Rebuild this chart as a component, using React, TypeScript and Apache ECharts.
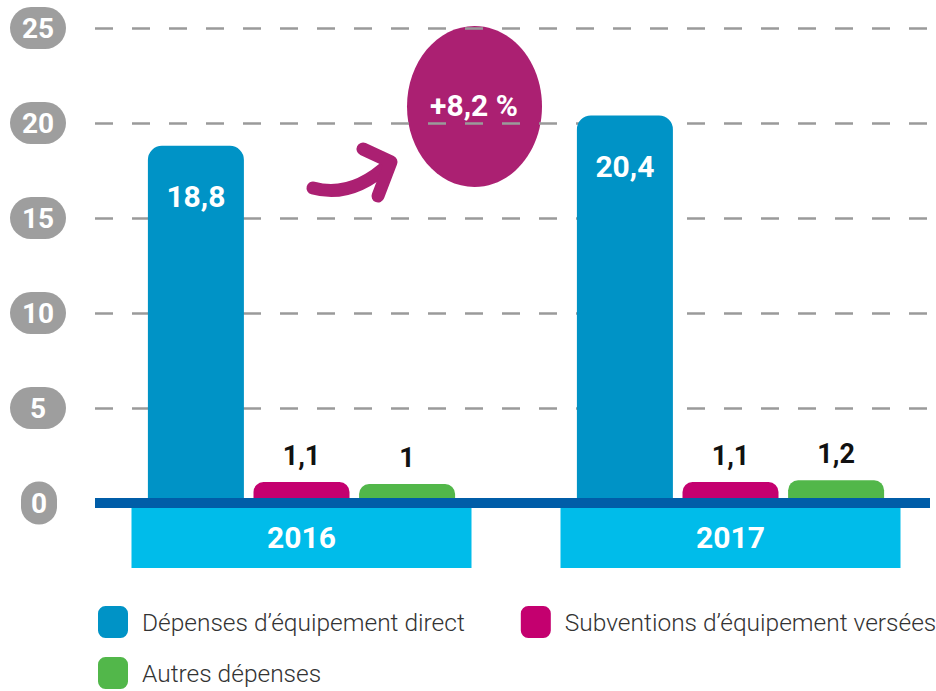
import React, { useEffect, useRef } from "react";
import * as echarts from "echarts";

const categories = ["2016", "2017"];
const seriesNames = [
  "Dépenses d’équipement direct",
  "Subventions d’équipement versées",
  "Autres dépenses",
];
const directValues = [18.8, 20.4];
const subventionValues = [1.1, 1.1];
const autresValues = [1, 1.2];
const yTicks = { min: 0, max: 25, interval: 5 };
const growthLabel = "+8,2 %";

const BLUE = "#0093C6";
const MAGENTA = "#C4006F";
const GREEN = "#52B74A";
const CYAN = "#00BCEA";
const AXIS = "#005DA8";
const PILL = "#9E9E9E";
const PURPLE = "#AB2072";
const FONT = "Roboto, 'Open Sans', sans-serif";

const CANVAS_W = 960;

const fmt = (p: any) => String(p.value).replace(".", ",");

export default function App() {
  const ref = useRef<HTMLDivElement>(null);
  useEffect(() => {
    document.body.style.margin = "0";
    document.body.style.overflow = "hidden";
    const chart = echarts.init(ref.current!, null, {
      renderer: "svg",
      width: CANVAS_W,
      height: 691,
    });
    const smallLabel = {
      show: true,
      position: "top",
      distance: 13,
      formatter: fmt,
      color: "#111",
      fontFamily: FONT,
      fontWeight: "bold",
      fontSize: 27,
      lineHeight: 27,
    };
    const legendText = {
      fontFamily: FONT,
      fontWeight: 300,
      fontSize: 24.5,
      color: "#333",
      padding: [0, 0, 0, 9],
    };
    chart.setOption({
      animation: false,
      grid: [
        { left: 95, right: CANVAS_W - 930, top: 28, bottom: 188 },
        { left: 87, width: 858, top: 28, bottom: 188 },
      ],
      xAxis: [
        {
          type: "value",
          gridIndex: 0,
          min: 0,
          max: 1,
          z: 10,
          axisLine: {
            show: true,
            lineStyle: { color: AXIS, width: 10, cap: "butt" },
          },
          axisTick: { show: false },
          axisLabel: { show: false },
          splitLine: { show: false },
        },
        {
          type: "category",
          gridIndex: 1,
          data: categories,
          axisLine: { show: false },
          axisTick: { show: false },
          splitLine: { show: false },
          axisLabel: {
            interval: 0,
            margin: 4,
            formatter: (v: string) => "{b|" + v + "}",
            rich: {
              b: {
                width: 340,
                height: 61,
                lineHeight: 61,
                align: "center",
                backgroundColor: CYAN,
                color: "#fff",
                fontFamily: FONT,
                fontWeight: "bold",
                fontSize: 30,
              },
            },
          },
        },
      ],
      yAxis: [
        {
          type: "value",
          gridIndex: 0,
          min: yTicks.min,
          max: yTicks.max,
          interval: yTicks.interval,
          axisLine: { show: false },
          axisTick: { show: false },
          splitLine: {
            show: true,
            lineStyle: { color: "#9A9A9A", width: 2.5, type: [18, 19] },
          },
          axisLabel: {
            margin: 29,
            formatter: (v: number) =>
              v === 0 ? "{z|0}{s|}" : "{p|" + v + "}",
            rich: {
              p: {
                width: 56,
                height: 42,
                lineHeight: 42,
                align: "center",
                backgroundColor: PILL,
                borderRadius: 21,
                color: "#fff",
                fontFamily: FONT,
                fontWeight: "bold",
                fontSize: 28,
              },
              z: {
                width: 36,
                height: 43,
                lineHeight: 43,
                align: "center",
                backgroundColor: PILL,
                borderRadius: 20,
                color: "#fff",
                fontFamily: FONT,
                fontWeight: "bold",
                fontSize: 28,
              },
              s: { width: 9 },
            },
          },
        },
        {
          type: "value",
          gridIndex: 1,
          min: yTicks.min,
          max: yTicks.max,
          show: false,
          splitLine: { show: false },
        },
      ],
      legend: [
        {
          data: [seriesNames[0], seriesNames[1]],
          left: 98,
          top: 606,
          width: 850,
          padding: 0,
          itemWidth: 30,
          itemHeight: 32,
          itemGap: 56,
          icon: "roundRect",
          selectedMode: false,
          textStyle: legendText,
        },
        {
          data: [seriesNames[2]],
          left: 98,
          top: 657,
          padding: 0,
          itemWidth: 30,
          itemHeight: 32,
          icon: "roundRect",
          selectedMode: false,
          textStyle: legendText,
        },
      ],
      series: [
        {
          name: seriesNames[0],
          type: "bar",
          xAxisIndex: 1,
          yAxisIndex: 1,
          data: directValues,
          barWidth: 96,
          barGap: "10%",
          itemStyle: { color: BLUE, borderRadius: [14, 14, 0, 0] },
          label: {
            show: true,
            position: "insideTop",
            distance: 36,
            formatter: fmt,
            color: "#fff",
            fontFamily: FONT,
            fontWeight: "bold",
            fontSize: 30,
            lineHeight: 30,
          },
        },
        {
          name: seriesNames[1],
          type: "bar",
          xAxisIndex: 1,
          yAxisIndex: 1,
          data: subventionValues,
          barWidth: 96,
          barGap: "10%",
          itemStyle: { color: MAGENTA, borderRadius: [10, 10, 0, 0] },
          label: smallLabel,
        },
        {
          name: seriesNames[2],
          type: "bar",
          xAxisIndex: 1,
          yAxisIndex: 1,
          data: autresValues,
          barWidth: 96,
          barGap: "10%",
          itemStyle: { color: GREEN, borderRadius: [10, 10, 0, 0] },
          label: smallLabel,
        },
      ],
      graphic: [
        {
          type: "bezierCurve",
          shape: {
            x1: 313,
            y1: 188,
            cpx1: 345,
            cpy1: 197,
            cpx2: 372,
            cpy2: 180,
            x2: 390,
            y2: 163,
          },
          style: { stroke: PURPLE, lineWidth: 13, lineCap: "round", fill: null },
        },
        {
          type: "polyline",
          shape: {
            points: [
              [363, 149],
              [391, 162],
              [378, 196],
            ],
          },
          style: {
            stroke: PURPLE,
            lineWidth: 13,
            lineCap: "round",
            lineJoin: "round",
            fill: null,
          },
        },
        {
          type: "ellipse",
          shape: { cx: 474.5, cy: 106.5, rx: 67.5, ry: 80.5 },
          style: { fill: PURPLE },
        },
        {
          type: "text",
          x: 474,
          y: 105,
          style: {
            text: growthLabel,
            fill: "#fff",
            font: "bold 30px " + FONT,
            align: "center",
            verticalAlign: "middle",
          },
        },
      ],
    });
    return () => chart.dispose();
  }, []);
  return (
    <div
      ref={ref}
      style={{ width: 936, height: 691, overflow: "hidden" }}
    />
  );
}
